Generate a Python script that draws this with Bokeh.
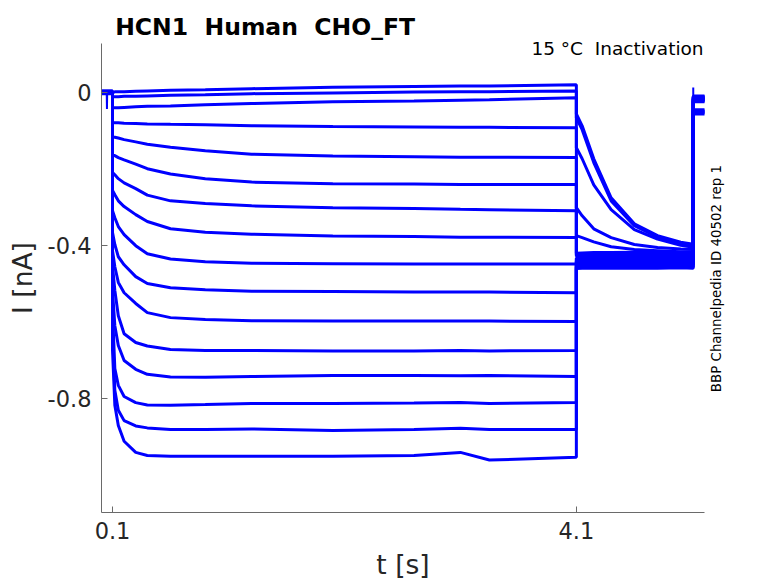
import math
from bokeh.plotting import figure
from bokeh.models import Range1d, FixedTicker, LinearAxis, Label
from bokeh.embed import file_html
from bokeh.resources import INLINE

# ---- data (t in s, I in nA) ----
t_pre = [0.005, 0.1]
t_step = [0.1, 0.12, 0.15, 0.2, 0.3, 0.4, 0.6, 0.9, 1.3, 2.0, 2.7, 3.1, 3.35, 4.1]
t_tail = [4.1, 4.15, 4.25, 4.4, 4.6, 4.8, 5.0, 5.108]
t_post = [5.108, 5.205]

hold = [0.004, 0.002, 0.000, -0.002, 0.003, -0.001, 0.001, -0.003,
        0.002, 0.000, -0.002, 0.001, -0.001, 0.003, 0.000, -0.002]

step_01 = [-0.001, 0.002, 0.002, 0.002, 0.003, 0.004, 0.006, 0.007, 0.010, 0.014, 0.016, 0.017, 0.017, 0.020]
step_02 = [-0.011, -0.011, -0.011, -0.010, -0.010, -0.009, -0.007, -0.006, -0.003, -0.001, 0.001, 0.002, 0.002, 0.004]
step_03 = [-0.040, -0.040, -0.040, -0.039, -0.037, -0.036, -0.035, -0.032, -0.029, -0.024, -0.022, -0.020, -0.019, -0.014]
step_04 = [-0.078, -0.079, -0.079, -0.080, -0.081, -0.082, -0.083, -0.084, -0.087, -0.089, -0.090, -0.091, -0.091, -0.092]
step_05 = [-0.116, -0.117, -0.119, -0.123, -0.129, -0.135, -0.143, -0.152, -0.161, -0.166, -0.168, -0.169, -0.169, -0.170]
step_06 = [-0.163, -0.165, -0.170, -0.176, -0.187, -0.199, -0.213, -0.225, -0.234, -0.238, -0.239, -0.240, -0.240, -0.240]
step_07 = [-0.209, -0.215, -0.225, -0.236, -0.251, -0.268, -0.283, -0.290, -0.296, -0.301, -0.303, -0.305, -0.306, -0.309]
step_08 = [-0.256, -0.267, -0.283, -0.298, -0.319, -0.337, -0.356, -0.365, -0.370, -0.375, -0.376, -0.378, -0.378, -0.379]
step_09 = [-0.309, -0.327, -0.350, -0.371, -0.400, -0.421, -0.435, -0.442, -0.446, -0.447, -0.448, -0.448, -0.448, -0.448]
step_10 = [-0.366, -0.397, -0.429, -0.450, -0.481, -0.499, -0.510, -0.515, -0.519, -0.520, -0.521, -0.521, -0.521, -0.523]
step_11 = [-0.413, -0.455, -0.496, -0.523, -0.551, -0.575, -0.588, -0.593, -0.596, -0.597, -0.597, -0.597, -0.597, -0.598]
step_12 = [-0.452, -0.517, -0.583, -0.630, -0.653, -0.662, -0.671, -0.674, -0.674, -0.675, -0.675, -0.674, -0.675, -0.674]
step_13 = [-0.517, -0.609, -0.661, -0.700, -0.723, -0.736, -0.743, -0.744, -0.742, -0.739, -0.739, -0.740, -0.739, -0.742]
step_14 = [-0.570, -0.721, -0.765, -0.794, -0.810, -0.816, -0.817, -0.815, -0.812, -0.812, -0.811, -0.810, -0.812, -0.810]
step_15 = [-0.622, -0.778, -0.830, -0.857, -0.871, -0.876, -0.880, -0.880, -0.879, -0.883, -0.880, -0.877, -0.880, -0.880]
step_16 = [-0.674, -0.817, -0.870, -0.911, -0.940, -0.948, -0.950, -0.950, -0.950, -0.950, -0.948, -0.940, -0.960, -0.953]

tail_01 = [-0.056, -0.087, -0.173, -0.275, -0.343, -0.374, -0.391, -0.396]
tail_02 = [-0.066, -0.097, -0.183, -0.283, -0.348, -0.378, -0.393, -0.399]
tail_03 = [-0.144, -0.173, -0.241, -0.306, -0.358, -0.383, -0.399, -0.404]
tail_04 = [-0.301, -0.322, -0.356, -0.379, -0.397, -0.405, -0.409, -0.410]
tail_05 = [-0.374, -0.379, -0.390, -0.403, -0.410, -0.413, -0.416, -0.416]
tail_06 = [-0.420, -0.419, -0.418, -0.418, -0.417, -0.418, -0.418, -0.418]
tail_07 = [-0.424, -0.423, -0.423, -0.422, -0.423, -0.423, -0.423, -0.422]
tail_08 = [-0.428, -0.427, -0.427, -0.427, -0.426, -0.427, -0.427, -0.427]
tail_09 = [-0.432, -0.431, -0.431, -0.431, -0.431, -0.430, -0.431, -0.431]
tail_10 = [-0.436, -0.435, -0.435, -0.435, -0.435, -0.435, -0.434, -0.435]
tail_11 = [-0.440, -0.439, -0.439, -0.439, -0.439, -0.439, -0.439, -0.438]
tail_12 = [-0.444, -0.443, -0.443, -0.443, -0.443, -0.442, -0.443, -0.443]
tail_13 = [-0.448, -0.447, -0.447, -0.447, -0.447, -0.447, -0.446, -0.447]
tail_14 = [-0.452, -0.451, -0.451, -0.451, -0.451, -0.451, -0.451, -0.450]
tail_15 = [-0.456, -0.455, -0.455, -0.455, -0.455, -0.454, -0.455, -0.455]
tail_16 = [-0.460, -0.459, -0.459, -0.459, -0.459, -0.459, -0.458, -0.459]

post = [-0.009, -0.011, -0.014, -0.017, -0.019, -0.022, -0.012, -0.015,
        -0.018, -0.020, -0.024, -0.045, -0.048, -0.050, -0.053, -0.056]

# small artefacts
spike_pre_t = [0.050, 0.052, 0.054]
spike_pre_i = [-0.001, -0.043, -0.001]
spike_end_t = [5.108, 5.108]
spike_end_i = [-0.010, 0.013]

x_ticks = [0.1, 4.1]
x_tick_labels = ["0.1", "4.1"]
y_ticks = [0, -0.4, -0.8]
y_tick_labels = ["0", "-0.4", "-0.8"]

# extent of the drawn axes (data units)
x_lo, x_hi = 0.005, 5.205
y_lo, y_hi = -1.097, 0.128

title_text = "HCN1 \u00a0Human \u00a0CHO_FT"
subtitle_text = "15 °C \u00a0Inactivation"
side_text = "BBP Channelpedia ID 40502 rep 1"
x_label = "t [s]"
y_label = "I [nA]"

steps = [step_01, step_02, step_03, step_04, step_05, step_06, step_07, step_08,
         step_09, step_10, step_11, step_12, step_13, step_14, step_15, step_16]
tails = [tail_01, tail_02, tail_03, tail_04, tail_05, tail_06, tail_07, tail_08,
         tail_09, tail_10, tail_11, tail_12, tail_13, tail_14, tail_15, tail_16]

FONT = "DejaVu Sans"
BLUE = "#0000ff"
AXC = "#6a6a6a"
TXC = "#262626"

W, H = 778, 583
LEFT, BOTTOM = 101, 71
frame_w = W - LEFT          # plotting area reaches the right and top edges
frame_h = H - BOTTOM
sx = (x_hi - x_lo) / 603.0  # axes box is 603 x 469 px
sy = (y_hi - y_lo) / 469.0

p = figure(width=W, height=H, output_backend="svg", toolbar_location=None, title=None,
           x_range=Range1d(x_lo, x_lo + frame_w * sx),
           y_range=Range1d(y_lo, y_lo + frame_h * sy),
           min_border_left=LEFT, min_border_right=0, min_border_top=0, min_border_bottom=BOTTOM)
p.background_fill_color = "white"
p.border_fill_color = "white"
p.outline_line_color = None
p.grid.visible = False

t_all = t_pre + t_step + t_tail + t_post
for k in range(len(steps)):
    y_all = [hold[k], hold[k]] + steps[k] + tails[k] + [post[k], post[k]]
    p.line(t_all, y_all, line_color=BLUE, line_width=3)
p.line(spike_pre_t, spike_pre_i, line_color=BLUE, line_width=2)
p.line(spike_end_t, spike_end_i, line_color=BLUE, line_width=2)

for ax in (p.xaxis[0], p.yaxis[0]):
    ax.axis_line_color = AXC
    ax.major_tick_line_color = AXC
    ax.major_tick_in = 6
    ax.major_tick_out = 0
    ax.minor_tick_in = 0
    ax.minor_tick_out = 0
    ax.minor_tick_line_color = None
    ax.major_label_text_font = FONT
    ax.major_label_text_font_size = "22.5px"
    ax.major_label_text_color = TXC
p.xaxis[0].major_label_standoff = 9
p.yaxis[0].major_label_standoff = 10

p.xaxis[0].bounds = (x_lo, x_hi)
p.yaxis[0].bounds = (y_lo, y_hi)
p.xaxis[0].ticker = FixedTicker(ticks=x_ticks)
p.xaxis[0].major_label_overrides = dict(zip(x_ticks, x_tick_labels))
p.yaxis[0].ticker = FixedTicker(ticks=y_ticks)
p.yaxis[0].major_label_overrides = dict(zip(y_ticks, y_tick_labels))

# axis titles, centred on the axes box (not on the wider plotting area)
x_mid = (x_lo + x_hi) / 2
y_mid = (y_lo + y_hi) / 2
plain = dict(axis_line_color=None, major_tick_line_color=None, minor_tick_line_color=None,
             major_tick_in=0, major_tick_out=0, minor_tick_in=0, minor_tick_out=0,
             major_label_text_font=FONT, major_label_text_font_size="26.5px",
             major_label_text_color=TXC)
xlab = LinearAxis(ticker=FixedTicker(ticks=[x_mid]), major_label_overrides={x_mid: x_label},
                  major_label_standoff=7, **plain)
p.add_layout(xlab, "below")
ylab = LinearAxis(ticker=FixedTicker(ticks=[y_mid]), major_label_overrides={y_mid: y_label},
                  major_label_orientation="vertical", major_label_standoff=7, **plain)
p.add_layout(ylab, "left")

p.add_layout(Label(x=0.123, y=0.1714, text=title_text, text_font=FONT,
                   text_font_size="23.5px", text_font_style="bold", text_color="black",
                   text_align="left", text_baseline="alphabetic"))
p.add_layout(Label(x=5.197, y=0.114, text=subtitle_text, text_font=FONT,
                   text_font_size="18.5px", text_color="black",
                   text_align="right", text_baseline="alphabetic"))
p.add_layout(Label(x=5.309, y=-0.486, text=side_text, text_font=FONT,
                   text_font_size="13.4px", text_color="black", angle=math.pi / 2,
                   text_align="center", text_baseline="middle"))

open("out.html", "w").write(file_html(p, INLINE))
